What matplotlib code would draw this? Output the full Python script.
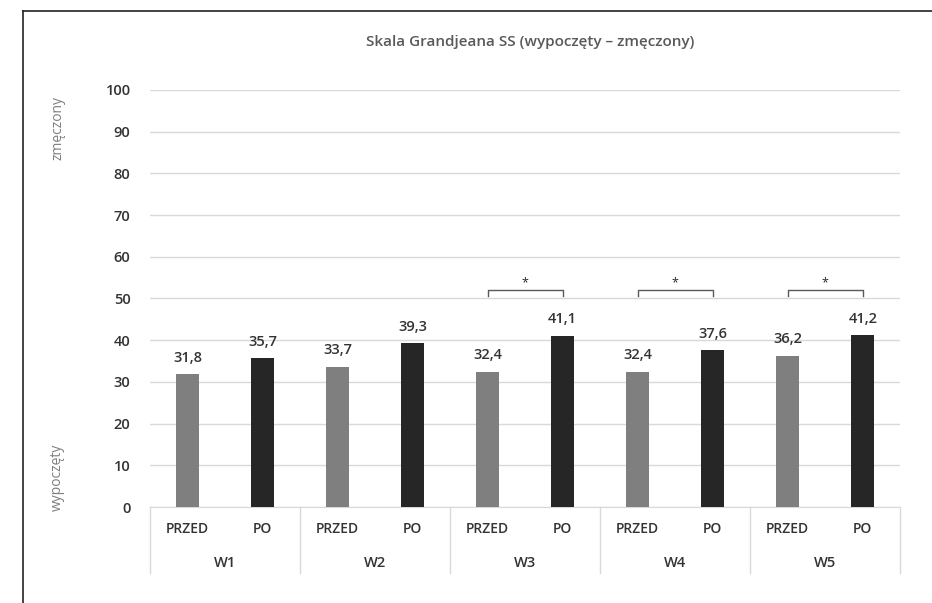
import matplotlib.pyplot as plt
from matplotlib.lines import Line2D

plt.rcParams['font.family'] = ['Open Sans', 'DejaVu Sans']

groups = ['W1', 'W2', 'W3', 'W4', 'W5']
phases = ['PRZED', 'PO']
przed = [31.8, 33.7, 32.4, 32.4, 36.2]
po = [35.7, 39.3, 41.1, 37.6, 41.2]
significant = ['W3', 'W4', 'W5']
yticks = [0, 10, 20, 30, 40, 50, 60, 70, 80, 90, 100]

fig = plt.figure(figsize=(9.32, 6.03), dpi=100)
ax = fig.add_axes([0.161, 0.159, 0.805, 0.692])

txt = '#333333'
for i, g in enumerate(groups):
    xa, xb = 2 * i, 2 * i + 1
    ax.bar(xa, przed[i], width=0.31, color='#7f7f7f', zorder=3)
    ax.bar(xb, po[i], width=0.31, color='#262626', zorder=3)
    ax.text(xa, przed[i] + 2.3, f'{przed[i]:.1f}'.replace('.', ','), ha='center',
            va='bottom', fontsize=10.5, color=txt, fontweight='semibold')
    ax.text(xb, po[i] + 2.3, f'{po[i]:.1f}'.replace('.', ','), ha='center',
            va='bottom', fontsize=10.5, color=txt, fontweight='semibold')
    # category labels
    ax.text(xa, -0.053, phases[0], transform=ax.get_xaxis_transform(),
            ha='center', va='center', fontsize=10, color=txt, fontweight='semibold')
    ax.text(xb, -0.053, phases[1], transform=ax.get_xaxis_transform(),
            ha='center', va='center', fontsize=10, color=txt, fontweight='semibold')
    ax.text(xa + 0.5, -0.134, g, transform=ax.get_xaxis_transform(),
            ha='center', va='center', fontsize=10.5, color=txt, fontweight='semibold')
    if g in significant:
        ax.plot([xa, xa, xb, xb], [50.5, 52, 52, 50.5], color='#595959', lw=1, zorder=4)
        ax.text(xa + 0.5, 52.3, '*', ha='center', va='bottom', fontsize=9, color='#262626')

# group separators below the axis
for k in range(len(groups) + 1):
    ax.plot([2 * k - 0.5] * 2, [0, -0.158], transform=ax.get_xaxis_transform(),
            color='#d9d9d9', lw=1, clip_on=False)

ax.set_xlim(-0.5, 2 * len(groups) - 0.5)
ax.set_ylim(0, 100)
ax.set_yticks(yticks)
ax.set_xticks([])
ax.tick_params(axis='y', length=0, pad=14, labelsize=10.5, labelcolor=txt)
for lab in ax.get_yticklabels():
    lab.set_fontweight('semibold')
ax.yaxis.grid(True, color='#d9d9d9', lw=1, zorder=0)
for s in ['top', 'right', 'left']:
    ax.spines[s].set_visible(False)
ax.spines['bottom'].set_color('#d9d9d9')

fig.text(0.062, 1 - 128 / 603, 'zmęczony', rotation=90, ha='center', va='center',
         fontsize=10, color='#7f7f7f')
fig.text(0.062, 1 - 477 / 603, 'wypoczęty', rotation=90, ha='center', va='center',
         fontsize=10, color='#7f7f7f')
fig.text(0.569, 0.930, 'Skala Grandjeana SS (wypoczęty – zmęczony)', ha='center',
         va='center', fontsize=11, color='#595959', fontweight='semibold')

# frame lines
fig.add_artist(Line2D([0.0247, 0.0247], [0, 0.982], color='#222222', lw=1.2))
fig.add_artist(Line2D([0.0247, 1], [0.982, 0.982], color='#222222', lw=1.2))

fig.savefig('out.png', dpi=100)
